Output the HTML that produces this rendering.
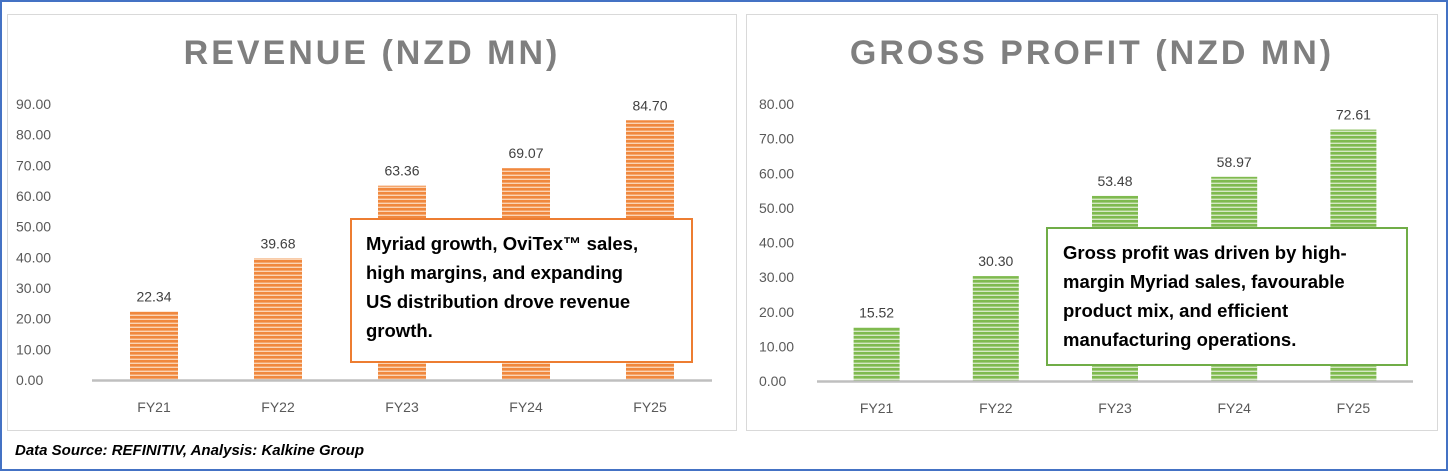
<!DOCTYPE html>
<html><head><meta charset="utf-8"><style>
body{margin:0;background:#fff;font-family:"Liberation Sans",sans-serif}
svg{display:block}
</style></head><body>
<svg width="1448" height="471" viewBox="0 0 1448 471" xmlns="http://www.w3.org/2000/svg">
<defs>
<pattern id="po" width="4" height="4" patternUnits="userSpaceOnUse"><rect width="4" height="4" fill="#fbd4b4"/><rect width="4" height="2.6" fill="#f0883e"/></pattern>
<pattern id="pg" width="4" height="4" patternUnits="userSpaceOnUse"><rect width="4" height="4" fill="#d5e8c4"/><rect width="4" height="2.6" fill="#7fba4f"/></pattern>
</defs>
<rect x="1" y="1" width="1446" height="469" fill="#fff" stroke="#4472c4" stroke-width="2"/>
<rect x="7.5" y="14.5" width="729" height="416" fill="#fff" stroke="#d9d9d9"/>
<rect x="746.5" y="14.5" width="691" height="416" fill="#fff" stroke="#d9d9d9"/>
<text x="372" y="64" text-anchor="middle" font-size="34" font-weight="bold" fill="#7f7f7f" letter-spacing="3">REVENUE (NZD MN)</text>
<text x="1092" y="64" text-anchor="middle" font-size="34" font-weight="bold" fill="#7f7f7f" letter-spacing="3">GROSS PROFIT (NZD MN)</text>
<g id="c1"></g><g id="c2"></g>
<rect x="351" y="219" width="341" height="143" fill="#fff" stroke="#ed7d31" stroke-width="2"/>
<text font-size="18.5" font-weight="bold" fill="#000">
<tspan x="366" y="250">Myriad growth, OviTex™ sales,</tspan>
<tspan x="366" y="279">high margins, and expanding</tspan>
<tspan x="366" y="308">US distribution drove revenue</tspan>
<tspan x="366" y="337">growth.</tspan></text>
<rect x="1047" y="228" width="360" height="137" fill="#fff" stroke="#70ad47" stroke-width="2"/>
<text font-size="18.5" font-weight="bold" fill="#000">
<tspan x="1063" y="259">Gross profit was driven by high-</tspan>
<tspan x="1063" y="288">margin Myriad sales, favourable</tspan>
<tspan x="1063" y="317">product mix, and efficient</tspan>
<tspan x="1063" y="346">manufacturing operations.</tspan></text>
<text x="15" y="455" font-size="15" font-weight="bold" font-style="italic" fill="#000">Data Source: REFINITIV, Analysis: Kalkine Group</text>
</svg>
<script>
const categories=["FY21","FY22","FY23","FY24","FY25"];
const revenueValues=[22.34,39.68,63.36,69.07,84.70];
const grossProfitValues=[15.52,30.30,53.48,58.97,72.61];
const revenueTicks=[0,10,20,30,40,50,60,70,80,90];
const grossProfitTicks=[0,10,20,30,40,50,60,70,80];
const NS="http://www.w3.org/2000/svg";
function mk(g,tag,attrs,txt){const e=document.createElementNS(NS,tag);for(const k in attrs)e.setAttribute(k,attrs[k]);if(txt!==undefined)e.textContent=txt;g.appendChild(e);return e;}
function draw(gid,vals,ticks,cfg){
  const g=document.getElementById(gid);
  const max=ticks[ticks.length-1];
  const y=v=>cfg.y0-(v/max)*(cfg.y0-cfg.yTop);
  const step=(cfg.x1-cfg.x0)/categories.length;
  const x=i=>cfg.x0+step*(i+0.5);
  ticks.forEach(t=>{
    const el=mk(g,"text",{x:cfg.tickX,y:y(t)+5,"font-size":14,fill:"#595959"},t.toFixed(2));
    
    
  });
  vals.forEach((v,i)=>{
    const r=mk(g,"rect",{x:x(i)-cfg.bw/2,y:y(v),width:cfg.bw,height:cfg.y0-y(v),fill:cfg.fill});
    
    
    const l=mk(g,"text",{x:x(i),y:y(v)-10,"text-anchor":"middle","font-size":14,fill:"#404040"},v.toFixed(2));
    
    
    const c=mk(g,"text",{x:x(i),y:cfg.y0+32,"text-anchor":"middle","font-size":14,fill:"#595959"},categories[i]);
    
    
  });
  const ax=mk(g,"line",{x1:cfg.x0,x2:cfg.x1,y1:cfg.y0+0.5,y2:cfg.y0+0.5,stroke:"#bfbfbf","stroke-width":2.5});
  
  
}
draw("c1",revenueValues,revenueTicks,{x0:92,x1:712,y0:380,yTop:104,bw:48,tickX:16,fill:"url(#po)"});
draw("c2",grossProfitValues,grossProfitTicks,{x0:817,x1:1413,y0:381,yTop:104,bw:46,tickX:759,fill:"url(#pg)"});
</script>
</body></html>
